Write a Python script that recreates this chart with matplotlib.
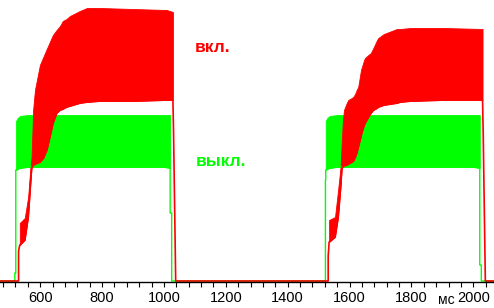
import matplotlib
matplotlib.use('Agg')
import matplotlib.pyplot as plt
import numpy as np

# time axis, ms
x_min, x_max = 470, 2067

# green trace (выкл.): oscillation band (upper / lower envelope)
green1_t = [522, 527, 535, 560, 800, 1000, 1020]
green2_t = [1523, 1528, 1536, 1560, 1800, 2000, 2021]
green_hi = [160, 163, 165, 166, 166, 166, 166]
green_lo = [111, 112, 113, 114, 114, 114, 113]
# green edges and baseline
green_rise1_t, green_rise1_v = [470, 518, 518, 521, 521], [0, 0, 8, 8, 111]
green_fall1_t, green_fall1_v = [1020, 1025, 1025, 1522, 1522, 1523], [68, 68, 0, 0, 101, 101]
green_fall2_t, green_fall2_v = [2021, 2026, 2026, 2067], [16, 16, 0, 0]

# red trace (вкл.): oscillation band, first pulse
red1_t = [534, 550, 561, 567, 572, 575, 577, 583, 599, 610, 621, 631, 641, 653, 664, 673, 685, 696, 728, 751, 793, 900, 1009, 1029]
red1_lo = [36, 41, 64, 91, 113, 114, 116, 117, 119, 123, 131, 144, 158, 168, 171, 172, 174, 175, 178, 179, 180, 180, 181, 181]
red1_hi = [58, 63, 84, 108, 124, 151, 171, 191, 216, 224, 232, 239, 246, 251, 255, 260, 262, 265, 270, 273, 273, 272, 271, 269]
# red oscillation band, second pulse
red2_t = [1534, 1553, 1563, 1571, 1575, 1578, 1582, 1591, 1596, 1607, 1612, 1618, 1623, 1628, 1637, 1639, 1647, 1650, 1661, 1669, 1677, 1689, 1693, 1711, 1753, 1763, 1798, 1905, 2030]
red2_lo = [39, 44, 64, 94, 113, 114, 115, 116, 117, 119, 120, 124, 128, 134, 145, 148, 156, 158, 164, 168, 171, 173, 174, 176, 178, 179, 180, 181, 181]
red2_hi = [61, 64, 91, 114, 140, 158, 171, 178, 181, 183, 184, 187, 191, 194, 211, 213, 221, 223, 226, 228, 233, 241, 243, 247, 252, 252, 253, 253, 252]
# red edges and baseline
red_rise1_t, red_rise1_v = [470, 530, 530], [0, 0, 30]
red_fall1_t, red_fall1_v = [1031, 1038, 1531, 1531], [150, 0, 0, 25]
red_fall2_t, red_fall2_v = [2032, 2039, 2067], [150, 0, 0]

major_ticks = [600, 800, 1000, 1200, 1400, 1600, 1800, 2000]
minor_ticks = np.arange(480, 2041, 40)

fig = plt.figure(figsize=(4.94, 3.08), dpi=100)
ax = fig.add_axes([0, 26 / 308, 1, 282 / 308])

green = '#00ff00'
red = '#ff0000'

# full line paths: baseline + edges + lower envelope
green_line_t = green_rise1_t + green1_t + green_fall1_t + green2_t + green_fall2_t
green_line_v = green_rise1_v + green_lo + green_fall1_v + green_lo + green_fall2_v
red_line_t = red_rise1_t + red1_t + red_fall1_t + red2_t + red_fall2_t
red_line_v = red_rise1_v + red1_lo + red_fall1_v + red2_lo + red_fall2_v

ax.fill_between(green1_t, green_lo, green_hi, color=green, lw=0.6, edgecolor=green)
ax.fill_between(green2_t, green_lo, green_hi, color=green, lw=0.6, edgecolor=green)
ax.plot(green_line_t, green_line_v, color=green, lw=1.0)

ax.fill_between(red1_t, red1_lo, red1_hi, color=red, lw=0.6, edgecolor=red)
ax.fill_between(red2_t, red2_lo, red2_hi, color=red, lw=0.6, edgecolor=red)
ax.plot(red_line_t, red_line_v, color=red, lw=1.2)

ax.set_xlim(x_min, x_max)
ax.set_ylim(-1, 281)

for s in ['left', 'right', 'top']:
    ax.spines[s].set_visible(False)
ax.spines['bottom'].set_color('black')
ax.spines['bottom'].set_linewidth(1.0)
ax.set_yticks([])
ax.set_xticks(major_ticks)
ax.set_xticks(minor_ticks, minor=True)
ax.tick_params(axis='x', which='both', direction='out', length=3.6, width=0.8, color='black')
ax.tick_params(axis='x', which='major', pad=3.0)
for lab in ax.get_xticklabels():
    lab.set_family(['Liberation Sans Narrow', 'Liberation Sans'])
    lab.set_fontsize(10.5)

fig.text(195 / 494, 1 - 48 / 308, 'вкл.', color=red, fontsize=12.5, fontweight='bold',
         family=['Liberation Sans', 'DejaVu Sans'], ha='left', va='center')
fig.text(196 / 494, 1 - 162 / 308, 'выкл.', color=green, fontsize=12.5, fontweight='bold',
         family=['Liberation Sans', 'DejaVu Sans'], ha='left', va='center')
fig.text(446 / 494, 1 - 300 / 308, 'мс', color='black', fontsize=10,
         family=['Liberation Sans Narrow', 'Liberation Sans'], ha='center', va='center')

fig.savefig('out.png', dpi=100, facecolor='white')
